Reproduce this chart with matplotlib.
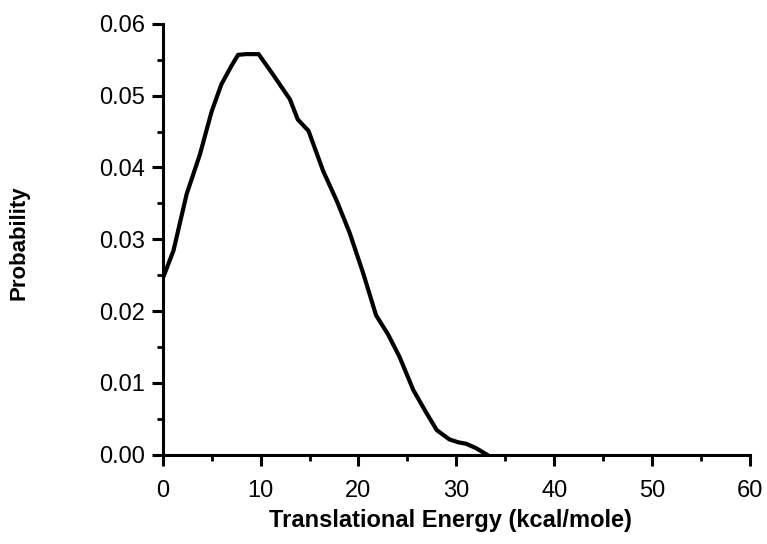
import matplotlib.pyplot as plt
from matplotlib.ticker import MultipleLocator, FormatStrFormatter

# translational energy distribution
energy = [0.0, 1.1, 2.45, 3.8, 5.0, 6.0, 7.0, 7.7, 8.5, 9.8, 11.3, 13.0, 13.8,
          14.9, 16.4, 17.8, 19.1, 20.5, 21.8, 23.0, 24.2, 25.6, 26.9, 28.0,
          29.3, 30.2, 31.0, 32.0, 33.1]
prob = [0.0245, 0.0284, 0.0363, 0.0418, 0.0478, 0.0516, 0.0541, 0.0557,
        0.0558, 0.0558, 0.0529, 0.0495, 0.0467, 0.0451, 0.0395, 0.0353,
        0.0309, 0.0252, 0.0194, 0.0168, 0.0136, 0.0090, 0.0059, 0.0034,
        0.0021, 0.0017, 0.0015, 0.0009, 0.0]

plt.rcParams['font.family'] = ['Liberation Sans', 'DejaVu Sans']

fig = plt.figure(figsize=(7.67, 5.44), dpi=100)
ax = fig.add_axes([0.2121, 0.1645, 0.7657, 0.7914])

ax.plot(energy, prob, color='black', lw=3.0, solid_joinstyle='round')

ax.set_xlim(0, 60)
ax.set_ylim(0, 0.06)
ax.spines['top'].set_visible(False)
ax.spines['right'].set_visible(False)
ax.spines['left'].set_linewidth(2.2)
ax.spines['bottom'].set_linewidth(2.2)

ax.xaxis.set_major_locator(MultipleLocator(10))
ax.xaxis.set_minor_locator(MultipleLocator(5))
ax.yaxis.set_major_locator(MultipleLocator(0.01))
ax.yaxis.set_minor_locator(MultipleLocator(0.005))
ax.yaxis.set_major_formatter(FormatStrFormatter('%.2f'))

ax.tick_params(which='major', direction='out', length=8, width=2.2)
ax.tick_params(which='minor', direction='out', length=4, width=2.0)
ax.tick_params(axis='x', labelsize=17, pad=10)
ax.tick_params(axis='y', labelsize=17, pad=5)

ax.set_xlabel('Translational Energy (kcal/mole)', fontsize=17, fontweight='bold')
ax.set_ylabel('Probability', fontsize=16, fontweight='bold')
ax.xaxis.set_label_coords(0.49, -0.127)
ax.yaxis.set_label_coords(-0.226, 0.491)

fig.savefig('out.png', dpi=100)
